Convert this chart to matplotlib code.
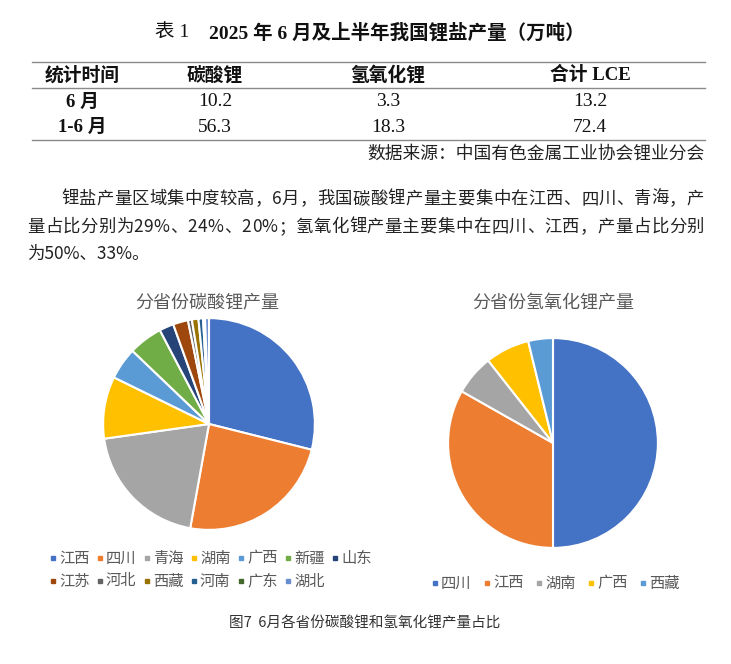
import matplotlib
matplotlib.use('Agg')
import matplotlib.pyplot as plt

plt.rcParams['font.family'] = ['Noto Sans CJK SC', 'DejaVu Sans']

W, H = 731, 664

# ---------------- data ----------------
table_title_prefix = '表 1'
table_title = '2025 年 6 月及上半年我国锂盐产量（万吨）'
table_headers = ['统计时间', '碳酸锂', '氢氧化锂', '合计 LCE']
table_rows = ['6 月', '1-6 月']
li2co3 = [10.2, 56.3]
lioh = [3.3, 18.3]
lce = [13.2, 72.4]
source_note = '数据来源：中国有色金属工业协会锂业分会'

paragraph_lines = [
    '锂盐产量区域集中度较高，6月，我国碳酸锂产量主要集中在江西、四川、青海，产',
    '量占比分别为29%、24%、20%；氢氧化锂产量主要集中在四川、江西，产量占比分别',
    '为50%、33%。',
]

carb_title = '分省份碳酸锂产量'
carb_provinces = ['江西', '四川', '青海', '湖南', '广西', '新疆', '山东',
                  '江苏', '河北', '西藏', '河南', '广东', '湖北']
carb_share = [29.0, 24.0, 20.0, 9.5, 4.9, 5.2, 2.2, 2.3, 0.6, 1.0, 0.7, 0.3, 0.6]

hyd_title = '分省份氢氧化锂产量'
hyd_provinces = ['四川', '江西', '湖南', '广西', '西藏']
hyd_share = [50.0, 33.2, 6.2, 6.8, 3.8]

caption = '图7  6月各省份碳酸锂和氢氧化锂产量占比'

palette = ['#4472C4', '#ED7D31', '#A5A5A5', '#FFC000', '#5B9BD5', '#70AD47',
           '#264478', '#9E480E', '#636363', '#997300', '#255E91', '#43682B', '#698ED0']

# ---------------- figure ----------------
fig = plt.figure(figsize=(W / 100, H / 100), dpi=100, facecolor='white')
canvas = fig.add_axes([0, 0, 1, 1])
canvas.set_xlim(0, W)
canvas.set_ylim(H, 0)
canvas.axis('off')

serif = ['Liberation Serif', 'Noto Sans CJK SC']

# table title
canvas.text(189, 33, table_title_prefix, family=serif, fontsize=14, ha='right', va='center', color='#111')
canvas.text(209, 33, table_title, family=serif, fontsize=14, fontweight='bold', ha='left', va='center', color='#111')

# table lines
for y in (62, 88, 140):
    canvas.plot([32, 705], [y, y], color='#8a8a8a', lw=1.0)

col_x = [82, 215, 388, 590]
canvas_kw = dict(family=serif, ha='center', va='center', color='#111')
for x, h in zip(col_x, table_headers):
    canvas.text(x, 75, h, fontsize=13.5, fontweight='bold', **canvas_kw)
row_y = [102, 127]
for i, y in enumerate(row_y):
    canvas.text(col_x[0], y, table_rows[i], fontsize=13.5, fontweight='bold', **canvas_kw)
    canvas.text(col_x[1], y, f'{li2co3[i]:.1f}', fontsize=14, **canvas_kw)
    canvas.text(col_x[2], y, f'{lioh[i]:.1f}', fontsize=14, **canvas_kw)
    canvas.text(col_x[3], y, f'{lce[i]:.1f}', fontsize=14, **canvas_kw)
canvas.text(705, 154, source_note, family=serif, fontsize=12.8, ha='right', va='center', color='#222')

# paragraph (justified)
renderer = fig.canvas.get_renderer()


def justify(text, x0, x1, y, size):
    objs = [canvas.text(0, y, c, fontsize=size, ha='left', va='center', color='#222') for c in text]
    widths = [o.get_window_extent(renderer).width for o in objs]
    gap = (x1 - x0 - sum(widths)) / (len(objs) - 1)
    x = x0
    for o, w in zip(objs, widths):
        o.set_x(x)
        x += w + gap


justify(paragraph_lines[0], 61, 704, 199, 12.5)
justify(paragraph_lines[1], 27, 704, 227, 12.5)
canvas.text(27, 254, paragraph_lines[2], fontsize=12.5, ha='left', va='center', color='#222')


# pies
def pie_axes(cx, cy, r):
    return fig.add_axes([(cx - r) / W, 1 - (cy + r) / H, 2 * r / W, 2 * r / H])


ax1 = pie_axes(209, 424, 108)
ax1.pie(carb_share, colors=palette[:len(carb_share)], startangle=90, counterclock=False,
        radius=1, wedgeprops=dict(edgecolor='white', linewidth=1.5))
ax1.set_xlim(-1.02, 1.02)
ax1.set_ylim(-1.02, 1.02)
ax1.set_aspect('equal')
ax1.axis('off')

ax2 = pie_axes(553, 443, 107)
ax2.pie(hyd_share, colors=palette[:len(hyd_share)], startangle=90, counterclock=False,
        radius=1, wedgeprops=dict(edgecolor='white', linewidth=1.5))
ax2.set_xlim(-1.02, 1.02)
ax2.set_ylim(-1.02, 1.02)
ax2.set_aspect('equal')
ax2.axis('off')

canvas.text(207, 302, carb_title, fontsize=13, ha='center', va='center', color='#595959')
canvas.text(553, 303, hyd_title, fontsize=13, ha='center', va='center', color='#595959')

# legends
for i, name in enumerate(carb_provinces):
    row, col = divmod(i, 7)
    x = 53 + 47 * col
    y = 558 + 23 * row
    canvas.add_patch(plt.Rectangle((x - 2.2, y - 2.2), 4.4, 4.4, color=palette[i], zorder=3))
    canvas.text(x + 6, y, name, fontsize=11, ha='left', va='center', color='#595959')

for i, name in enumerate(hyd_provinces):
    x = 435 + 52 * i
    y = 583
    canvas.add_patch(plt.Rectangle((x - 2.2, y - 2.2), 4.4, 4.4, color=palette[i], zorder=3))
    canvas.text(x + 6, y, name, fontsize=11, ha='left', va='center', color='#595959')

canvas.text(365, 623, caption, fontsize=10.5, ha='center', va='center', color='#333333')

fig.savefig('out.png', dpi=100, facecolor='white')
